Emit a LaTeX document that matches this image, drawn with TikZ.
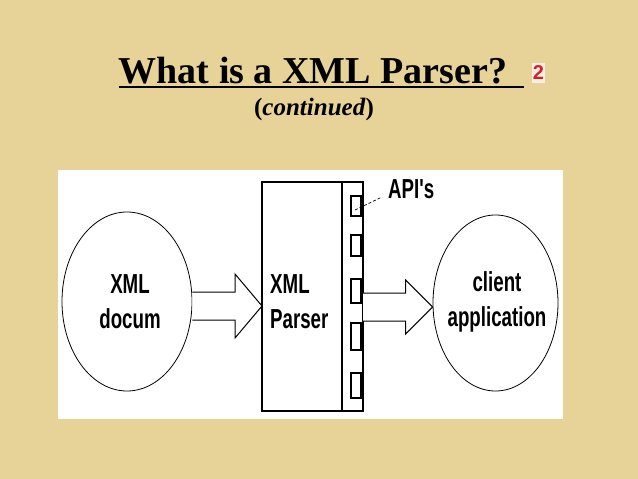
\documentclass[tikz,border=0pt]{standalone}
\usepackage{fontspec}
\setmainfont{Liberation Serif}
\newfontfamily\diagfont[FakeStretch=0.68]{Liberation Sans}
\newfontfamily\markfont{Liberation Sans}
\usepackage{tikz}
\usetikzlibrary{calc,positioning,shapes.geometric}

\definecolor{papyrus}{RGB}{231,210,152}
\definecolor{slidered}{RGB}{214,32,40}

\begin{document}
\begin{tikzpicture}[x=1pt, y=-1pt,
  diagtext/.style={font=\diagfont\bfseries\fontsize{27.5}{35}\selectfont, inner sep=0pt},
  blob/.style={ellipse, draw, line width=0.8pt, fill=white, inner sep=0pt},
  boxline/.style={draw, line width=1.4pt, outer sep=0pt, inner sep=0pt},
  slot/.style={draw, line width=1.2pt, minimum width=10pt, inner sep=0pt, outer sep=0pt},
  blockline/.style={draw, line width=1pt, fill=white, line join=miter}]
  \useasboundingbox (0,0) rectangle (638,479);
  \fill[papyrus] (0,0) rectangle (638,479);
  % heading
  \node[font=\bfseries\fontsize{38}{44}\selectfont, anchor=base, inner sep=0pt] (title) at (313,83) {What is a XML Parser?};
  \draw[line width=2pt] ($(title.base west)+(0,4)$) -- ++(405,0);
  \node[font=\bfseries\fontsize{25}{30}\selectfont, anchor=base, inner sep=0pt] (subtitle) at (314,115) {(\textit{continued})};
  \node[fill={rgb,255:red,246;green,238;blue,228}, text=slidered, font=\markfont\bfseries\fontsize{20}{20}\selectfont,
        minimum width=13pt, minimum height=20pt, inner sep=0pt] (pagemark) at (538.5,73) {2};
  % white panel
  \fill[white] (58,170) rectangle (563,419);
  % parts
  \node[blob, minimum width=130pt, minimum height=179pt] (doc) at (127,301.5) {};
  \node[diagtext, align=center] (doclab) at (130,302) {XML\\docum};
  \node[boxline, anchor=north west, minimum width=80pt, minimum height=229pt] (parser) at (262,182) {};
  \node[boxline, right=0pt of parser, minimum width=21pt, minimum height=229pt] (apis) {};
  \node[diagtext, align=left, anchor=west] (parlab) at ($(parser.west)+(8,5)$) {XML\\Parser};
  \node[blob, minimum width=125pt, minimum height=176pt] (client) at (495.5,303) {};
  \node[diagtext, align=center] (clientlab) at (497,302) {client\\application};
  \foreach \n/\ya/\yb in {1/196/216, 2/235/256, 3/279/303, 4/323/350, 5/373/398}{
    \node[slot, anchor=north east, minimum height={(\yb-\ya)*1pt}] (slot\n) at (361,\ya) {};
  }
  \node[diagtext, anchor=base west] (apilab) at (388,198) {API's};
  \draw[line width=0.7pt, densely dashed] ($(slot1.center)+(-1,4)$) -- ($(apilab.base west)+(-6,-1)$);
  % block arrows
  \path (doc.east) ++(0,4.5) coordinate (la0);
  \coordinate (la1) at (la0 -| parser.west);
  \path (apis.east) ++(0,10.5) coordinate (ra0);
  \coordinate (ra1) at (ra0 -| client.west);
  \foreach \s/\t/\hh in {la0/la1/32pt, ra0/ra1/27pt}{
    \draw[blockline] let \p1=(\s), \p2=(\t) in
      (\x1,\y1+14pt) -- (\x2-27pt,\y1+14pt) -- (\x2-27pt,\y1+\hh) -- (\x2,\y1)
      -- (\x2-27pt,\y1-\hh) -- (\x2-27pt,\y1-14pt) -- (\x1,\y1-14pt);
  }
\end{tikzpicture}
\end{document}
